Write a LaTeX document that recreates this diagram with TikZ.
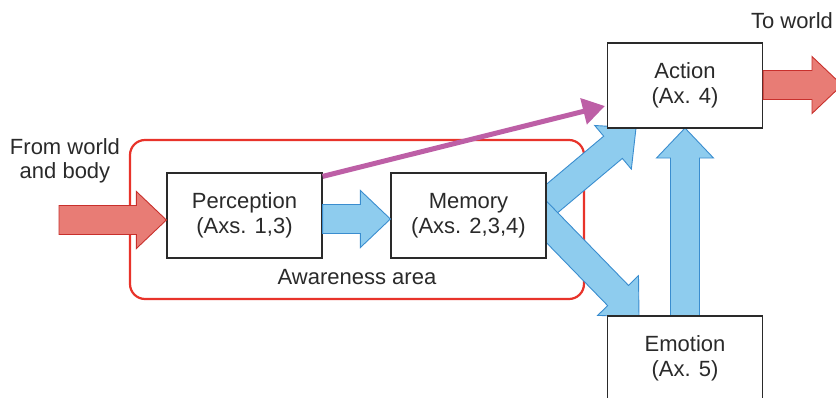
\documentclass[tikz,border=0pt]{standalone}
\usepackage{fontspec}
\setmainfont{Liberation Sans}
\usetikzlibrary{calc,arrows.meta}
\definecolor{framered}{HTML}{E8332A}
\definecolor{arrred}{HTML}{E87C75}
\definecolor{arrredd}{HTML}{C8302C}
\definecolor{arrblue}{HTML}{8ECCEE}
\definecolor{arrblued}{HTML}{3A8DCF}
\definecolor{purp}{HTML}{BD5FA6}
\definecolor{ink}{HTML}{2A2A2A}
\newcommand\blockarrow[3]{%
 \path ($(#2)!30pt!(#1)$) coordinate (ba-h);
 \draw[#3] ($(#1)!14.5pt!90:(#2)$) -- ($(ba-h)!14.5pt!-90:(#1)$) -- ($(ba-h)!28.5pt!-90:(#1)$) -- (#2) -- ($(ba-h)!28.5pt!90:(#1)$) -- ($(ba-h)!14.5pt!90:(#1)$) -- ($(#1)!14.5pt!-90:(#2)$) -- cycle;}
\tikzset{
 txt/.style={font=\fontsize{22}{24.5}\selectfont, text=ink, align=center, inner sep=0pt},
 boxnode/.style={txt, draw=ink, line width=1.2pt, fill=white, minimum width=155pt, minimum height=85pt},
 redarrow/.style={fill=arrred, draw=arrredd, line width=0.9pt, line join=miter},
 bluearrow/.style={fill=arrblue, draw=arrblued, line width=0.9pt, line join=miter},
 area/.style={draw=framered, line width=2.2pt, rounded corners=15pt},
 purparrow/.style={draw=purp, line width=5pt, -{Triangle[length=22pt,width=26pt]}}
}
\begin{document}
\begin{tikzpicture}[x=1pt,y=-1pt]
\clip (0,0) rectangle (836,397);
\fill[white] (0,0) rectangle (836,397);
% awareness area frame
\draw[area] (130,140) rectangle (584,299);
\node[txt] (awlbl) at (357,277) {Awareness area};
% box positions
\path (244.5,215.5) coordinate (percC) (468.5,215.5) coordinate (memC)
      (685,85.5) coordinate (actC) (685,358.5) coordinate (emoC);
% arrow end coordinates
\coordinate (inTail) at (59,220);
\coordinate (outTip) at (842,85);
% blue diagonal arrows (drawn below boxes)
\blockarrow{$(memC)+(61.5,1.5)$}{$(actC)+(-49,42.5)$}{bluearrow}
\blockarrow{$(memC)+(61.5,-10.5)$}{$(emoC)+(-46,-41.5)$}{bluearrow}
% vertical blue arrow
\blockarrow{$(emoC)+(0,-42.5)$}{$(actC)+(0,42.5)$}{bluearrow}
% boxes
\node[boxnode] (perc) at (percC) {Perception\\(Axs. 1,3)};
\node[boxnode] (mem) at (memC) {Memory\\(Axs. 2,3,4)};
\node[boxnode] (act) at (actC) {Action\\(Ax. 4)};
\node[boxnode] (emo) at (emoC) {Emotion\\(Ax. 5)};
% perception -> memory
\blockarrow{$(perc.east)+(0,3.5)$}{$(mem.west)+(0,3.5)$}{bluearrow}
% input and output red arrows
\blockarrow{inTail}{$(perc.west)+(0,4.5)$}{redarrow}
\blockarrow{$(act.east)+(0,-0.5)$}{outTip}{redarrow}
% purple arrow
\draw[purparrow] ($(perc.north east)+(0,4)$) -- ($(act.west)+(-2,20.5)$);
% labels
\node[txt] (fromlbl) at (65,161) {From world\\and body};
\node[txt] (tolbl) at (792,21) {To world};
\end{tikzpicture}
\end{document}
